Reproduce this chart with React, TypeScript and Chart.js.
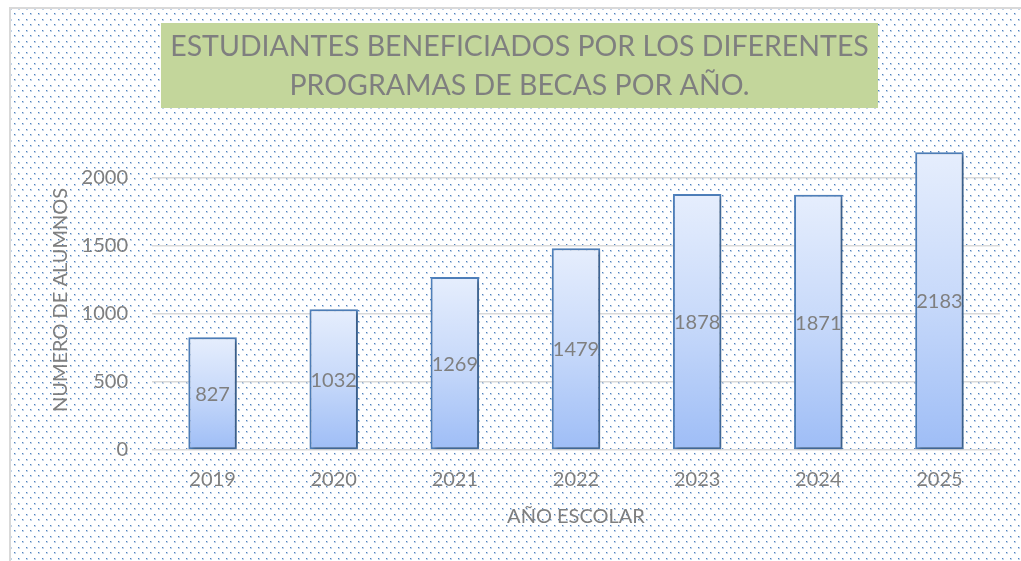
import { useEffect, useRef } from "react";
import { Chart, registerables } from "chart.js";

Chart.register(...registerables);

const years = ["2019", "2020", "2021", "2022", "2023", "2024", "2025"];
const students = [827, 1032, 1269, 1479, 1878, 1871, 2183];
const yTickValues = [0, 500, 1000, 1500, 2000];
const titleLines = [
  "ESTUDIANTES BENEFICIADOS POR LOS DIFERENTES",
  "PROGRAMAS DE BECAS POR AÑO.",
];
const xAxisTitle = "AÑO ESCOLAR";
const yAxisTitle = "NUMERO DE ALUMNOS";

const FONT = "Lato, 'Open Sans', sans-serif";
const GRAY = "#7f7f7f";

function makePattern(ctx: CanvasRenderingContext2D) {
  const c = document.createElement("canvas");
  c.width = 8;
  c.height = 11;
  const p = c.getContext("2d")!;
  p.fillStyle = "#ffffff";
  p.fillRect(0, 0, 8, 11);
  p.fillStyle = "rgba(79,129,189,0.35)";
  p.fillRect(1, 1, 2, 2);
  p.fillRect(5, 6, 2, 2);
  p.fillStyle = "#4f81bd";
  p.fillRect(1, 1, 1, 1);
  p.fillRect(5, 6, 1, 1);
  return ctx.createPattern(c, "repeat");
}

const backgroundPlugin = {
  id: "bgPattern",
  beforeDraw(chart: any) {
    const { ctx, width, height } = chart;
    ctx.save();
    ctx.fillStyle = "#ffffff";
    ctx.fillRect(0, 0, width, height);
    const pat = makePattern(ctx);
    if (pat) {
      ctx.fillStyle = pat;
      ctx.fillRect(2, 2, width, height);
    }
    ctx.strokeStyle = "#d9d9d9";
    ctx.lineWidth = 2;
    ctx.beginPath();
    ctx.moveTo(1, height);
    ctx.lineTo(1, 1);
    ctx.lineTo(width, 1);
    ctx.stroke();
    ctx.restore();
  },
};

const titleBoxPlugin = {
  id: "titleBox",
  afterDraw(chart: any) {
    const { ctx } = chart;
    ctx.save();
    ctx.fillStyle = "#c3d69b";
    ctx.fillRect(152, 16, 717, 85);
    ctx.fillStyle = GRAY;
    ctx.font = `28.5px ${FONT}`;
    ctx.textAlign = "center";
    ctx.textBaseline = "middle";
    const cx = 152 + 717 / 2;
    ctx.fillText(titleLines[0], cx, 40);
    ctx.fillText(titleLines[1], cx, 79);
    ctx.restore();
  },
};

const shadowPlugin = {
  id: "barShadow",
  beforeDatasetsDraw(chart: any) {
    const { ctx } = chart;
    ctx.save();
    ctx.shadowColor = "rgba(0,0,0,0.35)";
    ctx.shadowBlur = 4;
    ctx.shadowOffsetX = 2;
    ctx.shadowOffsetY = 2;
  },
  afterDatasetsDraw(chart: any) {
    chart.ctx.restore();
  },
};

const valueLabelPlugin = {
  id: "valueLabels",
  afterDatasetsDraw(chart: any) {
    const { ctx } = chart;
    const meta = chart.getDatasetMeta(0);
    ctx.save();
    ctx.fillStyle = GRAY;
    ctx.font = `20px ${FONT}`;
    ctx.textAlign = "center";
    ctx.textBaseline = "middle";
    meta.data.forEach((bar: any, i: number) => {
      const y = (bar.y + bar.base) / 2;
      ctx.fillText(String(chart.data.datasets[0].data[i]), bar.x, y + 1);
    });
    ctx.restore();
  },
};

export default function App() {
  const canvasRef = useRef<HTMLCanvasElement | null>(null);

  useEffect(() => {
    const canvas = canvasRef.current;
    if (!canvas) return;
    const chart = new Chart(canvas, {
      type: "bar",
      data: {
        labels: years,
        datasets: [
          {
            label: yAxisTitle,
            data: students,
            backgroundColor: (context: any) => {
              const ch = context.chart;
              const y = ch.scales?.y;
              if (!ch.chartArea || !y || context.raw === undefined) return "#c5d7fa";
              const top = y.getPixelForValue(context.raw);
              const bottom = y.getPixelForValue(0);
              const g = ch.ctx.createLinearGradient(0, top, 0, bottom);
              g.addColorStop(0, "#e6eefd");
              g.addColorStop(0.5, "#c7d9fa");
              g.addColorStop(1, "#9ebdf6");
              return g;
            },
            borderColor: "#4f81bd",
            borderWidth: 2,
            borderSkipped: false,
            categoryPercentage: 1,
            barPercentage: 0.4,
          },
        ],
      },
      options: {
        responsive: false,
        maintainAspectRatio: false,
        animation: false,
        layout: { padding: { left: 0, top: 143, right: 21, bottom: 0 } },
        plugins: {
          legend: { display: false },
          title: { display: false },
          tooltip: { enabled: false },
        },
        scales: {
          x: {
            grid: { display: false, drawTicks: false },
            border: { display: false },
            ticks: {
              color: GRAY,
              font: { family: FONT, size: 20 },
              padding: 18,
            },
            title: {
              display: true,
              text: xAxisTitle,
              color: GRAY,
              font: { family: FONT, size: 20 },
              padding: { top: 0, bottom: 32 },
            },
            afterFit: (scale: any) => {
              scale.height = 111;
            },
          },
          y: {
            min: 0,
            max: 2200,
            afterBuildTicks: (scale: any) => {
              scale.ticks = yTickValues.map((v) => ({ value: v }));
            },
            grid: {
              color: "#d9d9d9",
              lineWidth: 1.5,
              drawTicks: false,
            },
            border: { display: false },
            ticks: {
              color: GRAY,
              font: { family: FONT, size: 20 },
              padding: 24,
              callback: (value: any) => String(value),
            },
            title: {
              display: true,
              text: yAxisTitle,
              color: GRAY,
              font: { family: FONT, size: 20 },
              padding: { top: 40, bottom: 0 },
            },
            afterFit: (scale: any) => {
              scale.width = 143;
            },
          },
        },
      },
      plugins: [backgroundPlugin, shadowPlugin, valueLabelPlugin, titleBoxPlugin],
    });
    return () => chart.destroy();
  }, []);

  return (
    <div
      style={{
        position: "fixed",
        left: 9,
        top: 7,
        width: 1012,
        height: 554,
      }}
    >
      <canvas ref={canvasRef} width={1012} height={554} style={{ display: "block" }} />
    </div>
  );
}
